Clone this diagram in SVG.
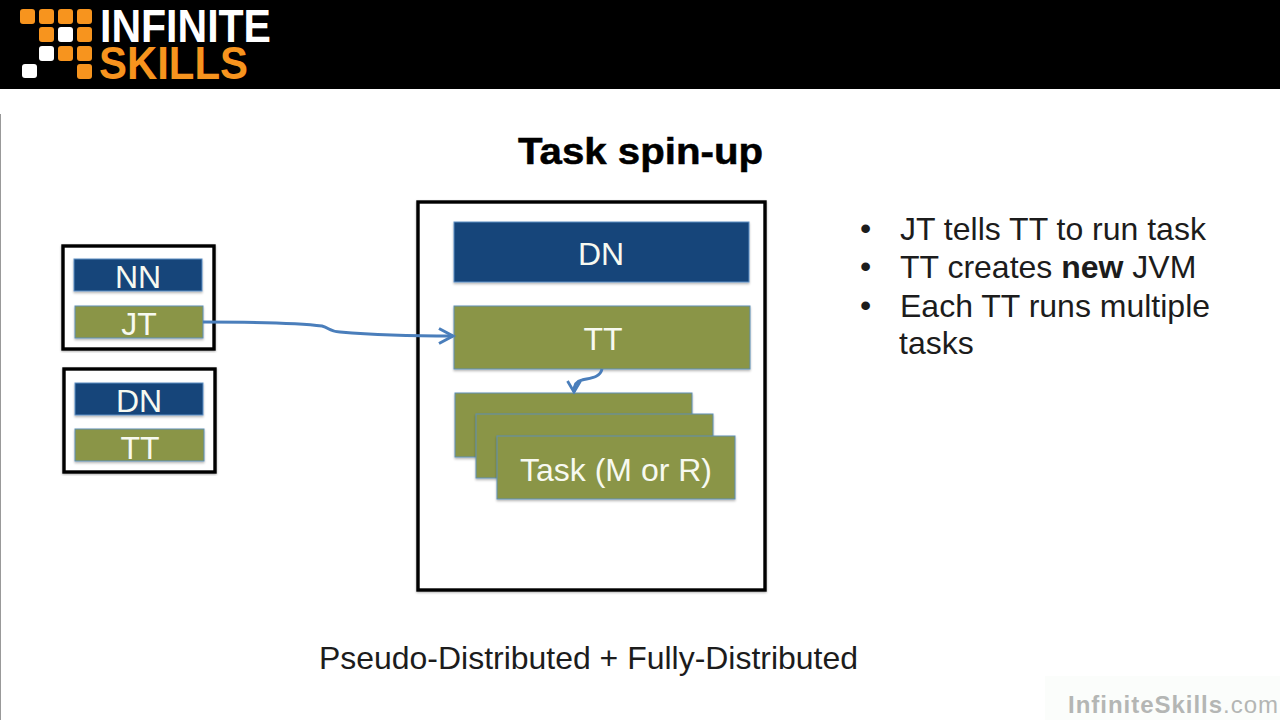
<svg xmlns="http://www.w3.org/2000/svg" width="1280" height="720" viewBox="0 0 1280 720">
<defs>
<filter id="sh" x="-5%" y="-10%" width="110%" height="125%"><feDropShadow dx="0" dy="1.5" stdDeviation="1.2" flood-color="#000" flood-opacity="0.3"/></filter>
<filter id="sb" x="-3%" y="-3%" width="106%" height="106%"><feDropShadow dx="0" dy="1" stdDeviation="1" flood-color="#000" flood-opacity="0.3"/></filter>
<marker id="arr" markerUnits="userSpaceOnUse" markerWidth="20" markerHeight="20" refX="16" refY="9" orient="auto"><path d="M2 1.5L16 9L2 16.5" fill="none" stroke="#4a7ebb" stroke-width="3"/></marker>
<marker id="arr2" markerUnits="userSpaceOnUse" markerWidth="18" markerHeight="18" refX="13" refY="8" orient="auto"><path d="M2 1.5L13 8L2 14.5" fill="none" stroke="#4a7ebb" stroke-width="2.8"/></marker>
</defs>
<style>
text{font-family:"Liberation Sans",Arial,sans-serif}
.box{fill:#fff;stroke:#000;stroke-width:3.4;filter:url(#sb)}
.blue{fill:#15457a;stroke:#5f8fc4;stroke-width:1;filter:url(#sh)}
.green{fill:#8a9546;stroke:#5f8fb4;stroke-width:1;filter:url(#sh)}
.lab{fill:#f7f9f0;text-anchor:middle;font-size:32px}
.bul{fill:#1c1c1c;font-size:32px}
.or{fill:#f7941e}
.wh{fill:#fff}
.conn{fill:none;stroke:#4a7ebb;stroke-width:3}
</style>
<rect width="1280" height="720" fill="#fff"/>
<rect id="banner" width="1280" height="89" fill="#000"/>
<g id="logo">
<rect class="or" x="20" y="9" width="15" height="15" rx="3"/><rect class="or" x="39" y="9" width="15" height="15" rx="3"/><rect class="or" x="58" y="9" width="15" height="15" rx="3"/><rect class="or" x="77" y="9" width="15" height="15" rx="3"/>
<rect class="or" x="39" y="27" width="15" height="15" rx="3"/><rect class="wh" x="58" y="27" width="15" height="15" rx="3"/><rect class="or" x="77" y="27" width="15" height="15" rx="3"/>
<rect class="wh" x="39" y="46" width="15" height="15" rx="3"/><rect class="or" x="58" y="46" width="15" height="15" rx="3"/><rect class="or" x="77" y="46" width="15" height="15" rx="3"/>
<rect class="wh" x="22" y="64" width="15" height="14" rx="3"/><rect class="or" x="77" y="64" width="15" height="15" rx="3"/>
<text x="100" y="42" font-size="46" font-weight="700" fill="#fff" textLength="171" lengthAdjust="spacingAndGlyphs">INFINITE</text>
<text x="99" y="79" font-size="46" font-weight="700" fill="#f7941e" textLength="149" lengthAdjust="spacingAndGlyphs">SKILLS</text>
</g>
<rect id="edge" x="0" y="114" width="1" height="606" fill="#999"/>
<text id="title" x="518" y="164" font-size="37" font-weight="700" fill="#000" textLength="245" lengthAdjust="spacingAndGlyphs" stroke="#000" stroke-width="0.5">Task spin-up</text>
<g id="main-box"><rect class="box" x="418" y="202" width="347" height="388"/></g>
<g id="master-box"><rect class="box" x="63" y="246" width="151" height="103"/></g>
<g id="worker-box"><rect class="box" x="64" y="369" width="151" height="103"/></g>
<g id="nn"><rect class="blue" x="74" y="259" width="128" height="32"/><text class="lab" x="138" y="288">NN</text></g>
<g id="jt"><rect class="green" x="75" y="306" width="128" height="32"/><text class="lab" x="139" y="335">JT</text></g>
<g id="dn-small"><rect class="blue" x="75" y="383" width="128" height="32"/><text class="lab" x="139" y="412">DN</text></g>
<g id="tt-small"><rect class="green" x="75" y="429" width="129" height="32"/><text class="lab" x="140" y="459">TT</text></g>
<g id="dn"><rect class="blue" x="454" y="222" width="295" height="60"/><text class="lab" x="601" y="265">DN</text></g>
<g id="tt"><rect class="green" x="454" y="306" width="296" height="63"/><text class="lab" x="603" y="350">TT</text></g>
<g id="task1"><rect class="green" x="455" y="393" width="237" height="64"/></g>
<g id="task2"><rect class="green" x="476" y="414" width="237" height="64"/></g>
<g id="task3"><rect class="green" x="497" y="436" width="238" height="63"/><text class="lab" x="616" y="481">Task (M or R)</text></g>
<g id="connectors">
<path class="conn" marker-end="url(#arr)" d="M203 322C250 322 300 323 322 326C330 328 328 331 340 332C375 335 420 336 453 336"/>
<path class="conn" marker-end="url(#arr2)" d="M602 369C600 378 590 378 582 380C576 381 574 385 574 392"/>
</g>
<g id="bullets">
<text class="bul" x="860" y="239">•</text><text class="bul" x="900" y="240">JT tells TT to run task</text>
<text class="bul" x="860" y="277">•</text><text class="bul" x="900" y="278">TT creates <tspan font-weight="700">new</tspan> JVM</text>
<text class="bul" x="860" y="316">•</text><text class="bul" x="900" y="317">Each TT runs multiple</text>
<text class="bul" x="899" y="354">tasks</text>
</g>
<text id="caption" x="319" y="669" font-size="32" fill="#1c1c1c" textLength="539" lengthAdjust="spacingAndGlyphs">Pseudo-Distributed + Fully-Distributed</text>
<g id="watermark"><rect x="1045" y="676" width="235" height="44" fill="#fbfdfb"/><text x="1068" y="713" font-size="24" fill="#b4b6b4" textLength="210"><tspan font-weight="700">InfiniteSkills</tspan>.com</text></g>
</svg>
